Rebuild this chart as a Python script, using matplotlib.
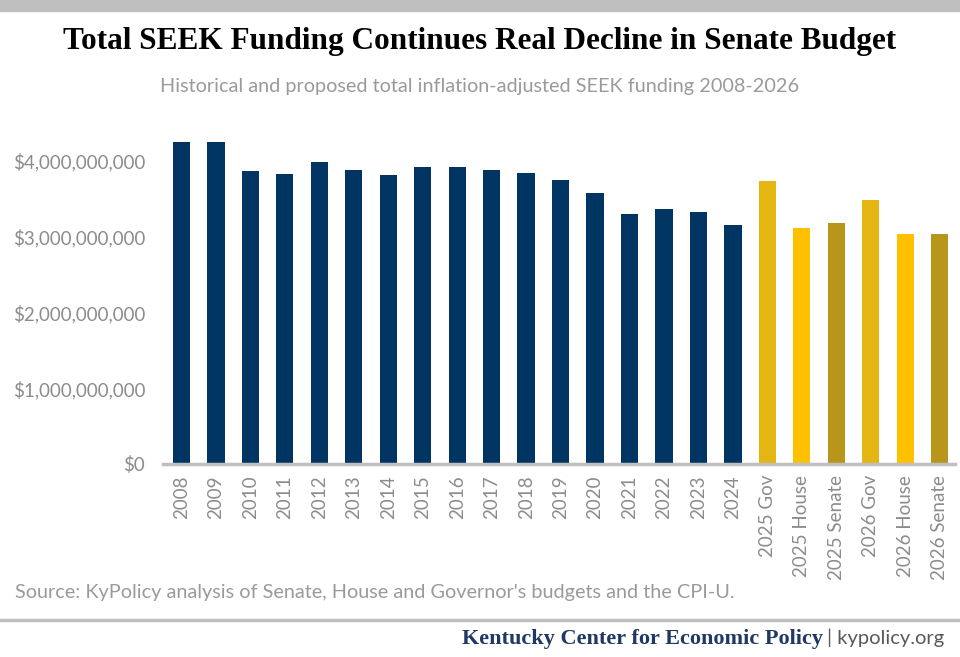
import numpy as np
import matplotlib.pyplot as plt
from matplotlib.ticker import FuncFormatter

# data (billions of dollars)
labels = ["2008", "2009", "2010", "2011", "2012", "2013", "2014", "2015", "2016",
          "2017", "2018", "2019", "2020", "2021", "2022", "2023", "2024",
          "2025 Gov", "2025 House", "2025 Senate", "2026 Gov", "2026 House", "2026 Senate"]
funding_bn = [4.25, 4.25, 3.86, 3.83, 3.98, 3.88, 3.82, 3.92, 3.92,
              3.88, 3.84, 3.75, 3.58, 3.30, 3.37, 3.33, 3.16,
              3.73, 3.12, 3.18, 3.49, 3.03, 3.04]

NAVY = "#003462"
GOV = "#E5B611"
HOUSE = "#FFC000"
SENATE = "#B8961A"
GREY_TXT = "#8C8C8C"

colors = []
for lab in labels:
    if "Gov" in lab:
        colors.append(GOV)
    elif "House" in lab:
        colors.append(HOUSE)
    elif "Senate" in lab:
        colors.append(SENATE)
    else:
        colors.append(NAVY)

values = np.array(funding_bn) * 1e9
x = np.arange(len(labels))

fig = plt.figure(figsize=(9.6, 6.57), dpi=100)
ax = fig.add_axes([0.170, 0.2938, 0.825, 0.519])

ax.bar(x, values, width=0.5, color=colors, zorder=2)

ax.set_xlim(-0.53, 22.45)
ax.set_ylim(0, 4.5e9)
ax.set_yticks(np.arange(0, 4.01e9, 1e9))
ax.yaxis.set_major_formatter(FuncFormatter(lambda v, p: "${:,.0f}".format(v)))
ax.set_xticks(x)
ax.set_xticklabels(labels, rotation=90)

for s in ["top", "right", "left"]:
    ax.spines[s].set_visible(False)
ax.spines["bottom"].set_color("#BFBFBF")
ax.spines["bottom"].set_linewidth(2.5)
ax.tick_params(axis="both", length=0, colors=GREY_TXT, labelsize=13.5)
ax.tick_params(axis="y", pad=13)
ax.tick_params(axis="x", pad=8)
for t in ax.get_xticklabels() + ax.get_yticklabels():
    t.set_family("Lato")

# header / footer decorations
fig.patches.append(plt.Rectangle((0, 1 - 11 / 657), 1, 11 / 657, transform=fig.transFigure,
                                 color="#BFBFBF", zorder=0))
fig.lines.append(plt.Line2D([0, 1], [1 - 620 / 657] * 2, transform=fig.transFigure,
                            color="#BFBFBF", linewidth=2.5))

fig.text(0.5, 1 - 49 / 657, "Total SEEK Funding Continues Real Decline in Senate Budget",
         ha="center", va="baseline", family="Liberation Serif", weight="bold", fontsize=22.5)
fig.text(480 / 960, 1 - 92 / 657, "Historical and proposed total inflation-adjusted SEEK funding 2008-2026",
         ha="center", va="baseline", family="Lato", fontsize=14.3, color="#9A9A9A")
fig.text(15 / 960, 1 - 598 / 657,
         "Source: KyPolicy analysis of Senate, House and Governor's budgets and the CPI-U.",
         ha="left", va="baseline", family="Lato", fontsize=14.3, color="#9A9A9A")

fig.text(823 / 960, 1 - 644 / 657, "Kentucky Center for Economic Policy",
         ha="right", va="baseline", family="Liberation Serif", weight="bold",
         fontsize=16, color="#1F3864")
fig.text(827 / 960, 1 - 644 / 657, "| kypolicy.org", ha="left", va="baseline",
         family="Lato", fontsize=14.5, color="#595959")

fig.savefig("out.png", dpi=100)
